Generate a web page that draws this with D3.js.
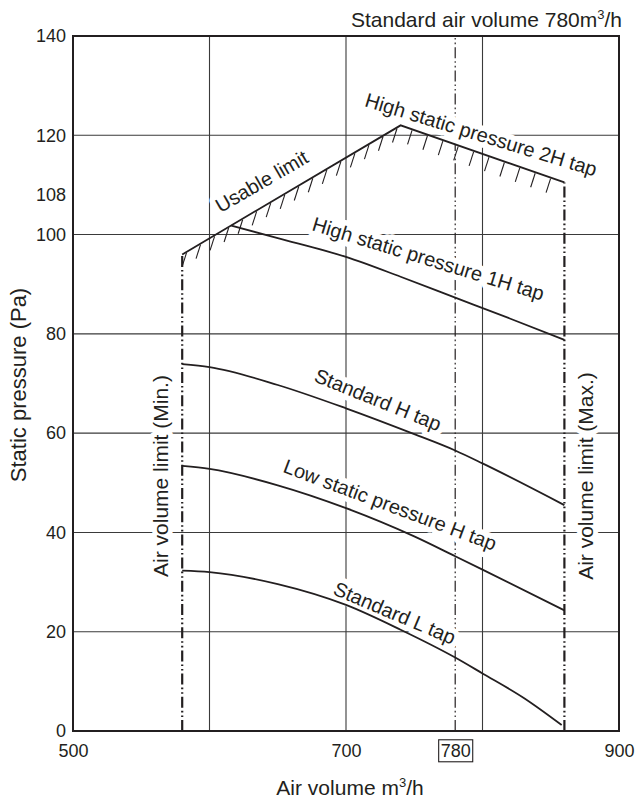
<!DOCTYPE html>
<html>
<head>
<meta charset="utf-8">
<script src="https://cdn.jsdelivr.net/npm/d3@7"></script>
<style>
  body { margin: 0; background: #fff; }
  svg text { font-family: "Liberation Sans", Arial, Helvetica, sans-serif; fill: #231f20; }
</style>
</head>
<body>
<svg id="chart"></svg>
<script>
// Axis ticks and grid
const xTicks = [500, 700, 780, 900];
const yTicks = [0, 20, 40, 60, 80, 100, 108, 120, 140];
const gridX = [600, 700, 800];
const gridY = [20, 40, 60, 80, 100, 120];

// Air volume limits and the standard air volume (m3/h)
const limitMin = 580;
const limitMax = 860;
const standardVolume = 780;

// [air volume m3/h, static pressure Pa]
const usableLimit = [[580, 96], [740, 122], [860, 110.5]];   // usable limit + 2H tap
const tap1H = [[616, 101.8], [650, 99.3], [700, 95.5], [740, 91.5], [780, 87.3], [820, 83.1], [860, 78.8]];
const tapStdH = [[580, 73.9], [600, 73.3], [650, 69.7], [700, 65.0], [750, 59.8], [780, 56.5], [800, 53.9], [860, 45.5]];
const tapLowH = [[580, 53.4], [600, 52.8], [650, 49.5], [700, 44.9], [750, 39.2], [780, 35.2], [800, 32.5], [860, 24.3]];
const tapStdL = [[580, 32.3], [600, 32.0], [650, 29.6], [700, 25.4], [740, 20.4], [780, 14.8], [800, 11.6], [830, 6.7], [858, 1.2]];

const width = 637, height = 801;
const margin = {top: 36, right: 18, bottom: 70, left: 73};
const ink = '#231f20';

const svg = d3.select('#chart').attr('width', width).attr('height', height);

const x = d3.scaleLinear().domain([500, 900]).range([margin.left, width - margin.right]);
const y = d3.scaleLinear().domain([0, 140]).range([height - margin.bottom, margin.top]);

// grid
const grid = svg.append('g').attr('stroke', '#3a3a3a').attr('stroke-width', 1.1);
grid.selectAll('line.h').data(gridY).join('line')
  .attr('class', 'h')
  .attr('x1', x(500)).attr('x2', x(900))
  .attr('y1', d => y(d)).attr('y2', d => y(d));
grid.selectAll('line.v').data(gridX).join('line')
  .attr('class', 'v')
  .attr('x1', d => x(d)).attr('x2', d => x(d))
  .attr('y1', y(0)).attr('y2', y(140));

// dash-dot-dot limit lines
const dashLines = [
  {v: limitMin, top: usableLimit[0][1], w: 2.2},
  {v: limitMax, top: usableLimit[usableLimit.length - 1][1], w: 2.2},
  {v: standardVolume, top: 140, w: 1.2},
];
svg.append('g').selectAll('line').data(dashLines).join('line')
  .attr('x1', d => x(d.v)).attr('x2', d => x(d.v))
  .attr('y1', y(0)).attr('y2', d => y(d.top))
  .attr('stroke', ink)
  .attr('stroke-width', d => d.w)
  .attr('stroke-dasharray', '11,3,1.6,3,1.6,3');

// curve labels (white halo breaks the grid like the original)
const curveLabels = [
  {text: 'Usable limit', at: [608, 104.3], angle: -30},
  {text: 'High static pressure 2H tap', at: [713, 125.9], angle: 17},
  {text: 'High static pressure 1H tap', at: [674.4, 100.9], angle: 17},
  {text: 'Standard H tap', at: [675.8, 70.5], angle: 22},
  {text: 'Low static pressure H tap', at: [653.1, 52.2], angle: 20.5},
  {text: 'Standard L tap', at: [689.7, 27.6], angle: 23},
];
svg.append('g').selectAll('text').data(curveLabels).join('text')
  .attr('transform', d => `translate(${x(d.at[0])},${y(d.at[1])}) rotate(${d.angle})`)
  .attr('font-size', 20)
  .attr('stroke', '#fff').attr('stroke-width', 11)
  .attr('stroke-linejoin', 'round')
  .attr('paint-order', 'stroke')
  .text(d => d.text);

// vertical limit labels
const limitLabels = [
  {text: 'Air volume limit (Min.)', px: 168},
  {text: 'Air volume limit (Max.)', px: 592.5},
];
svg.append('g').selectAll('text').data(limitLabels).join('text')
  .attr('transform', d => `translate(${d.px},476) rotate(-90)`)
  .attr('text-anchor', 'middle')
  .attr('font-size', 21)
  .attr('stroke', '#fff').attr('stroke-width', 10)
  .attr('stroke-linejoin', 'round')
  .attr('paint-order', 'stroke')
  .text(d => d.text);

// curves
const line = d3.line().x(d => x(d[0])).y(d => y(d[1]));
const curveLine = d3.line().x(d => x(d[0])).y(d => y(d[1])).curve(d3.curveMonotoneX);
const curves = svg.append('g').attr('fill', 'none').attr('stroke', ink).attr('stroke-width', 1.8);
curves.append('path').attr('d', line(usableLimit)).attr('stroke-linejoin', 'miter');
[tap1H, tapStdH, tapLowH, tapStdL].forEach(c => curves.append('path').attr('d', curveLine(c)));

// hatching under the usable limit
const pts = usableLimit.map(d => [x(d[0]), y(d[1])]);
const segs = [];
let total = 0;
for (let i = 0; i < pts.length - 1; i++) {
  const len = Math.hypot(pts[i + 1][0] - pts[i][0], pts[i + 1][1] - pts[i][1]);
  segs.push({a: pts[i], b: pts[i + 1], start: total, len});
  total += len;
}
const hatchAt = [];
for (let s = 5; s < total - 14; s += 16.3) hatchAt.push(s);
const hatches = hatchAt.map(s => {
  const seg = segs.find(g => s <= g.start + g.len) || segs[segs.length - 1];
  const t = (s - seg.start) / seg.len;
  const px = seg.a[0] + t * (seg.b[0] - seg.a[0]);
  const py = seg.a[1] + t * (seg.b[1] - seg.a[1]);
  return [[px, py + 1], [px - 4.5, py + 15]];
});
svg.append('g').attr('stroke', ink).attr('stroke-width', 1.1)
  .selectAll('path').data(hatches).join('path')
  .attr('d', d => d3.line()(d));

// axes
const yAxis = svg.append('g')
  .attr('transform', `translate(${margin.left},0)`)
  .call(d3.axisLeft(y).tickValues(yTicks).tickSize(0).tickPadding(7));
const xAxis = svg.append('g')
  .attr('transform', `translate(0,${height - margin.bottom})`)
  .call(d3.axisBottom(x).tickValues(xTicks).tickSize(0).tickPadding(13));
[xAxis, yAxis].forEach(a => {
  a.select('.domain').remove();
  a.attr('font-family', null).attr('font-size', 18);
  a.selectAll('text').attr('fill', ink);
});

// box round the standard air volume tick
xAxis.selectAll('.tick').filter(d => d === standardVolume).each(function() {
  const t = d3.select(this).select('text');
  const bb = t.node().getBBox();
  d3.select(this).insert('rect', 'text')
    .attr('x', bb.x - 2).attr('y', bb.y - 1)
    .attr('width', bb.width + 4).attr('height', bb.height + 2)
    .attr('fill', 'none').attr('stroke', ink).attr('stroke-width', 1.1);
});

// frame
svg.append('rect')
  .attr('x', x(500)).attr('y', y(140))
  .attr('width', x(900) - x(500)).attr('height', y(0) - y(140))
  .attr('fill', 'none').attr('stroke', ink).attr('stroke-width', 2);

// titles
const title = svg.append('text')
  .attr('x', 622).attr('y', 27)
  .attr('text-anchor', 'end').attr('font-size', 21);
title.append('tspan').text('Standard air volume 780m');
title.append('tspan').attr('font-size', 13).attr('dy', -8).text('3');
title.append('tspan').attr('dy', 8).text('/h');

const xLabel = svg.append('text')
  .attr('x', 350).attr('y', 795)
  .attr('text-anchor', 'middle').attr('font-size', 21);
xLabel.append('tspan').text('Air volume m');
xLabel.append('tspan').attr('font-size', 13).attr('dy', -8).text('3');
xLabel.append('tspan').attr('dy', 8).text('/h');

svg.append('text')
  .attr('transform', `translate(26,385) rotate(-90)`)
  .attr('text-anchor', 'middle').attr('font-size', 22)
  .text('Static pressure (Pa)');
</script>
</body>
</html>
